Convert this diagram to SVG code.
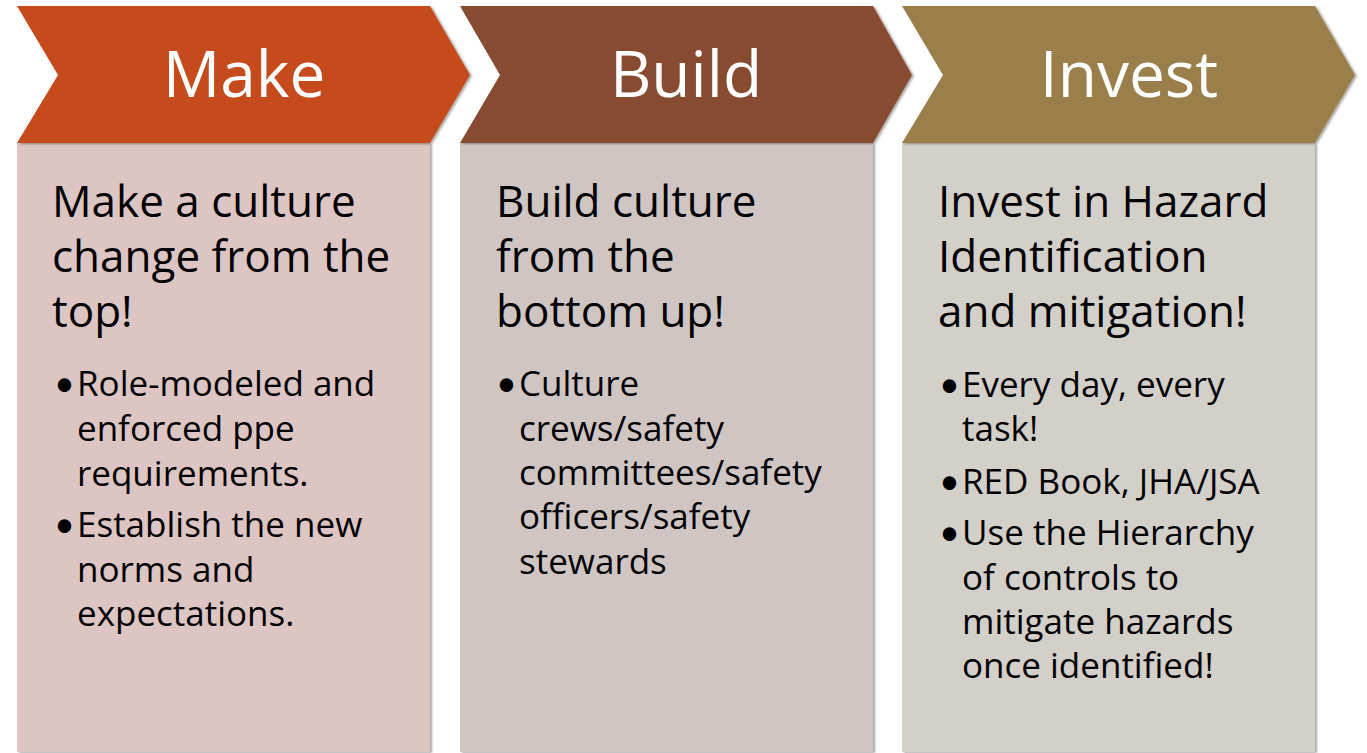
<svg xmlns="http://www.w3.org/2000/svg" width="1367" height="753" viewBox="0 0 1367 753">
  <defs>
    <filter id="sh" x="-5%" y="-5%" width="110%" height="110%">
      <feDropShadow dx="2" dy="1" stdDeviation="1.2" flood-color="#000" flood-opacity="0.35"/>
    </filter>
    <style>
      text { font-family: "Open Sans", Lato, sans-serif; font-variant-ligatures: none; }
      .hd { font-size: 64px; fill: #fff; text-anchor: middle; }
      .t1 { font-size: 44px; fill: #000; }
      .t2 { font-size: 35px; fill: #000; }
      .b { font-family: Lato, sans-serif; font-size: 36px; fill: #000; }
    </style>
  </defs>
  <rect width="1367" height="753" fill="#fff"/>

  <g id="make">
    <rect x="17" y="143" width="413" height="609" fill="#DCC5C3" filter="url(#sh)"/>
    <polygon points="17,6 430,6 470,75 430,143 17,143 58,75" fill="#C54B1C" filter="url(#sh)"/>
    <text class="hd" x="244" y="97">Make</text>
    <text class="t1" x="52" y="217">Make a culture</text>
    <text class="t1" x="52" y="272">change from the</text>
    <text class="t1" x="52" y="327">top!</text>
    <text class="b" x="54" y="396">•</text>
    <text class="t2" x="77" y="396">Role-modeled and</text>
    <text class="t2" x="77" y="441">enforced ppe</text>
    <text class="t2" x="77" y="486">requirements.</text>
    <text class="b" x="54" y="537">•</text>
    <text class="t2" x="77" y="537">Establish the new</text>
    <text class="t2" x="77" y="582">norms and</text>
    <text class="t2" x="77" y="626">expectations.</text>
  </g>

  <g id="build">
    <rect x="460" y="143" width="413" height="609" fill="#CFC6C3" filter="url(#sh)"/>
    <polygon points="460,6 873,6 912,75 873,143 460,143 500,75" fill="#874C33" filter="url(#sh)"/>
    <text class="hd" x="686" y="97">Build</text>
    <text class="t1" x="496" y="217">Build culture</text>
    <text class="t1" x="496" y="272">from the</text>
    <text class="t1" x="496" y="327">bottom up!</text>
    <text class="b" x="496" y="396">•</text>
    <text class="t2" x="519" y="396">Culture</text>
    <text class="t2" x="519" y="441">crews/safety</text>
    <text class="t2" x="519" y="485">committees/safety</text>
    <text class="t2" x="519" y="529">officers/safety</text>
    <text class="t2" x="519" y="574">stewards</text>
  </g>

  <g id="invest">
    <rect x="902" y="143" width="413" height="609" fill="#D3CFC9" filter="url(#sh)"/>
    <polygon points="902,6 1315,6 1355,75 1315,143 902,143 943,75" fill="#9A7F4C" filter="url(#sh)"/>
    <text class="hd" x="1129" y="97">Invest</text>
    <text class="t1" x="938" y="217">Invest in Hazard</text>
    <text class="t1" x="938" y="272">Identification</text>
    <text class="t1" x="938" y="327">and mitigation!</text>
    <text class="b" x="939" y="397">•</text>
    <text class="t2" x="962" y="397">Every day, every</text>
    <text class="t2" x="962" y="441">task!</text>
    <text class="b" x="939" y="494">•</text>
    <text class="t2" x="962" y="494">RED Book, JHA/JSA</text>
    <text class="b" x="939" y="545">•</text>
    <text class="t2" x="962" y="545">Use the Hierarchy</text>
    <text class="t2" x="962" y="590">of controls to</text>
    <text class="t2" x="962" y="634">mitigate hazards</text>
    <text class="t2" x="962" y="678">once identified!</text>
  </g>

  <g id="connectors"></g>
</svg>
